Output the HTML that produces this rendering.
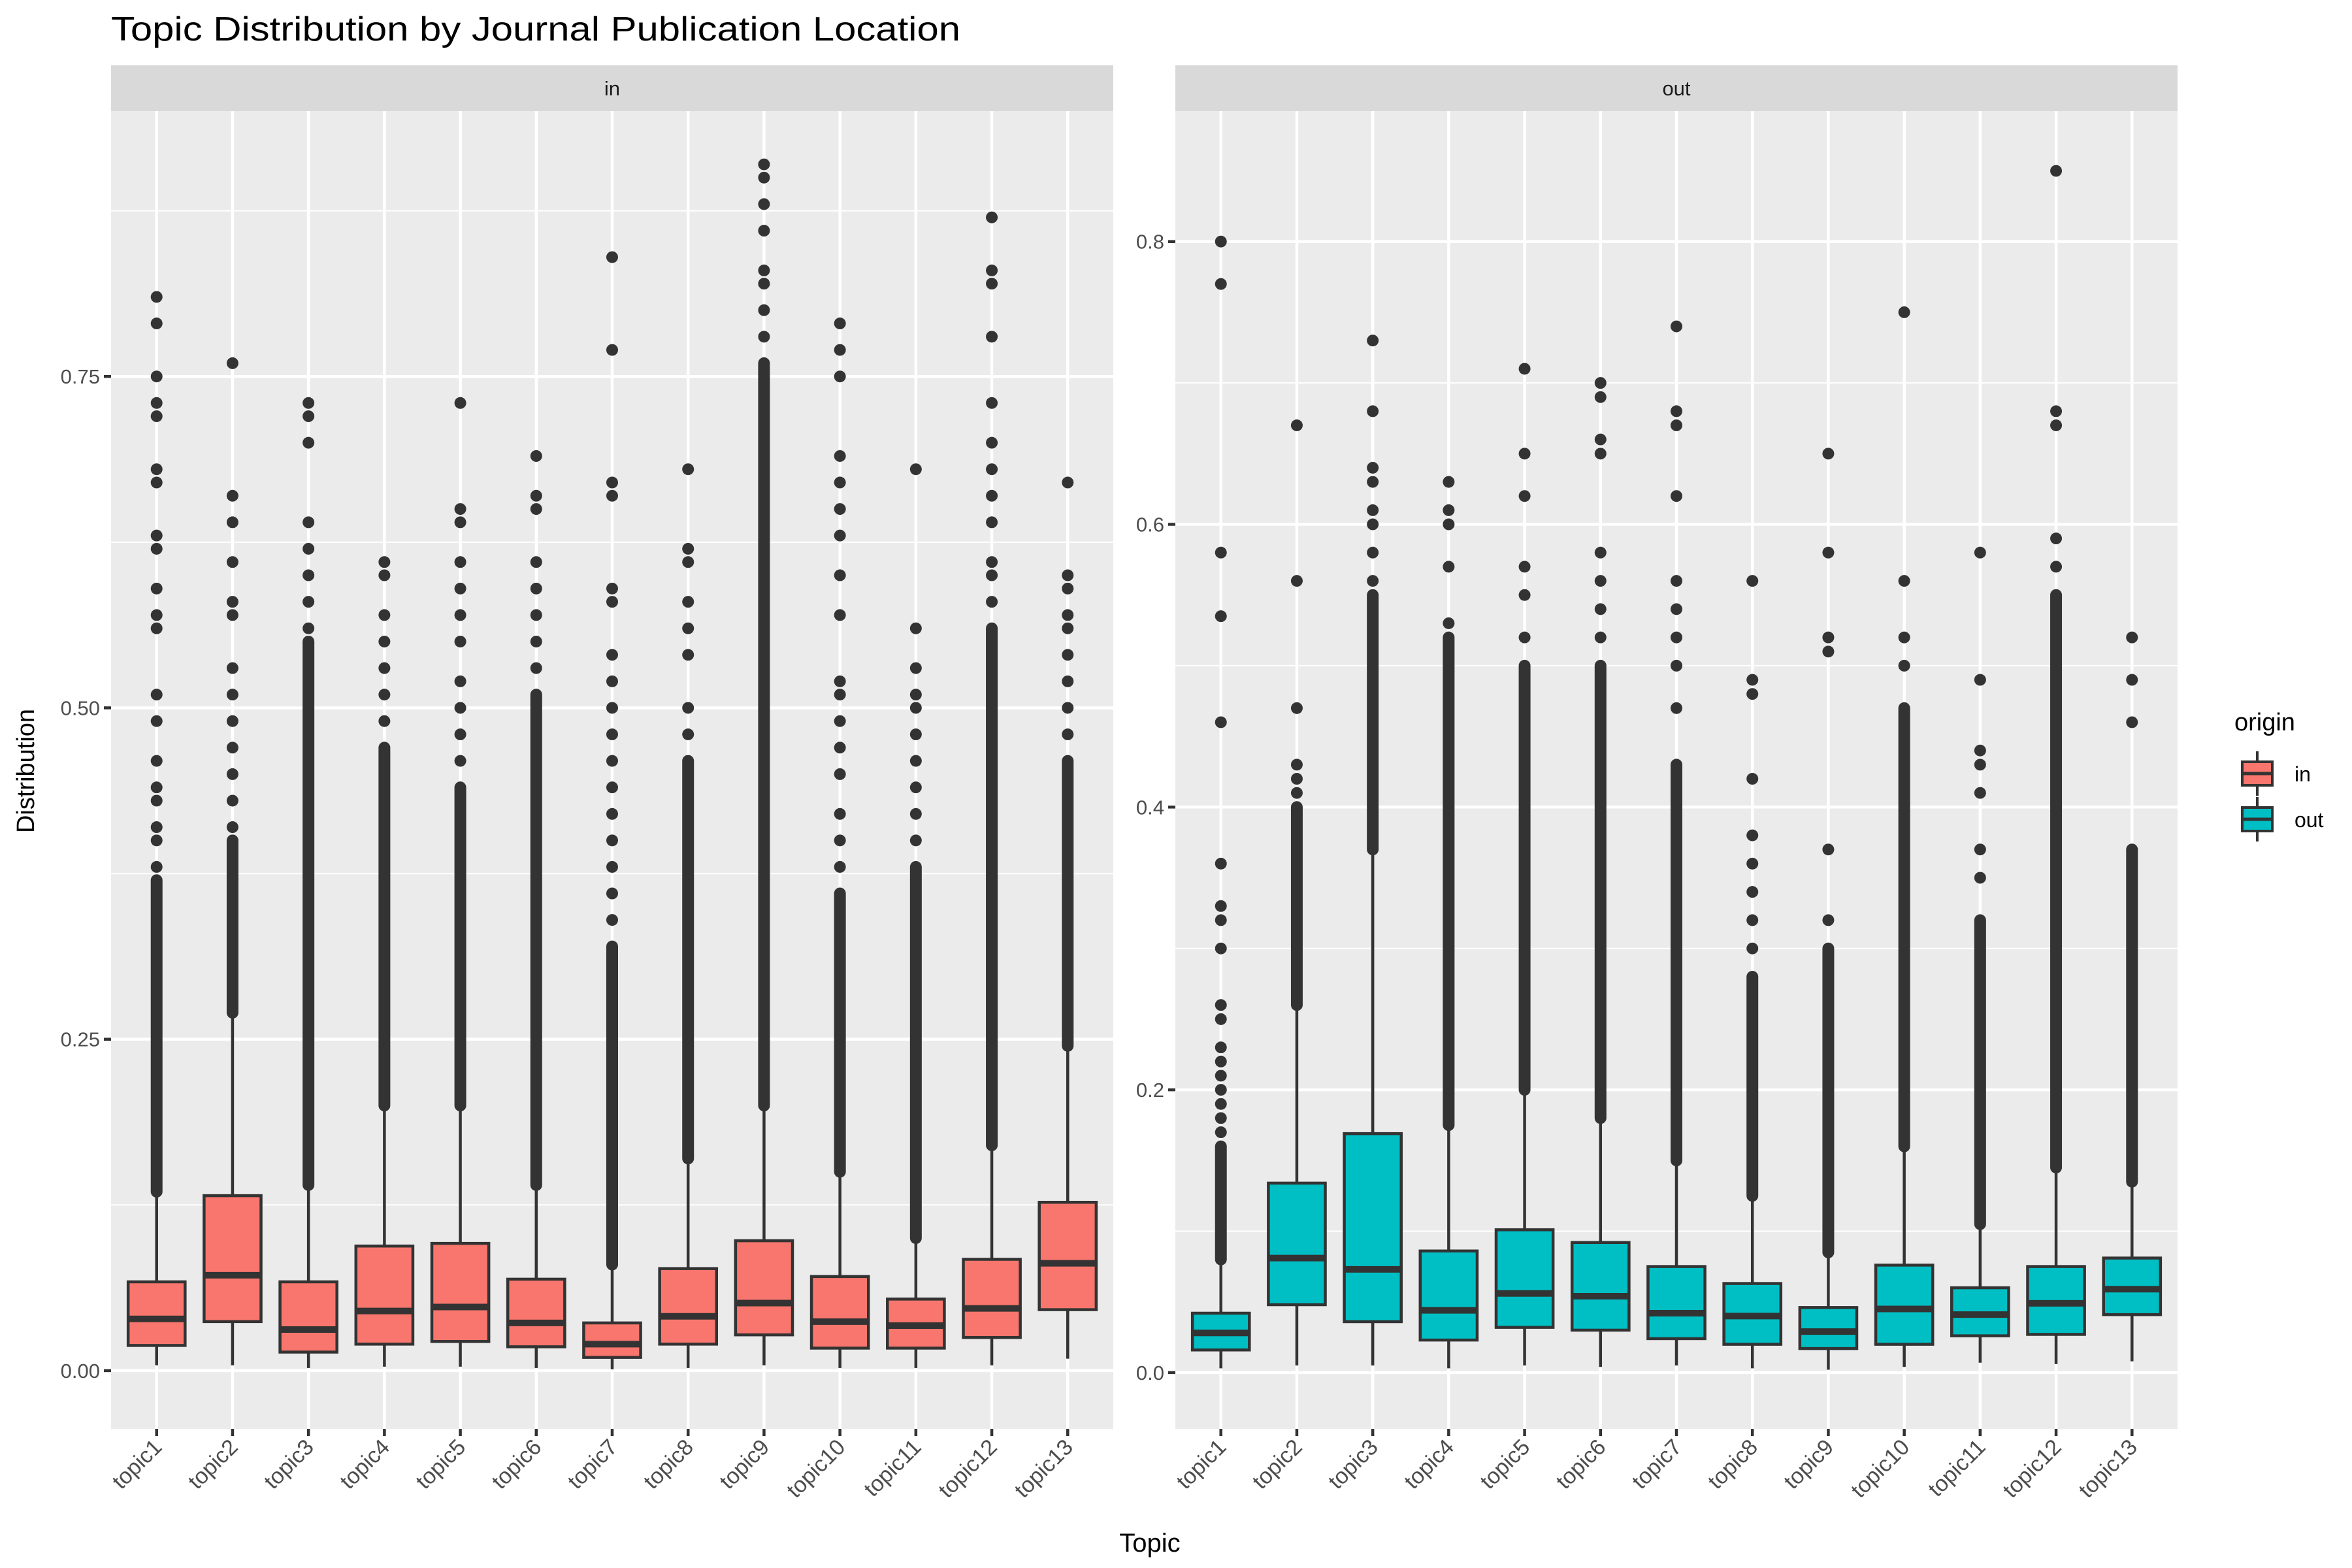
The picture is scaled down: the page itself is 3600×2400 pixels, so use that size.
<!DOCTYPE html>
<html><head><meta charset="utf-8"><style>
html,body{margin:0;padding:0;background:#fff;}
svg{display:block;font-family:"Liberation Sans",sans-serif;}
</style></head><body>
<svg id="chart" width="3600" height="2400" viewBox="0 0 3600 2400" xmlns="http://www.w3.org/2000/svg">
<text x="170" y="62" font-size="52" fill="#000" textLength="1300" lengthAdjust="spacingAndGlyphs">Topic Distribution by Journal Publication Location</text>
<text transform="translate(52,1180) rotate(-90)" text-anchor="middle" font-size="38" fill="#000">Distribution</text>
<text x="1760" y="2375" text-anchor="middle" font-size="40" fill="#000">Topic</text>
<g id="panels"></g>
<g>
<text x="3420" y="1118" font-size="38" fill="#000">origin</text>
<g>
<line x1="3455" y1="1150" x2="3455" y2="1218" stroke="#333" stroke-width="4"/>
<rect x="3432" y="1166" width="46" height="36" fill="#F8766D" stroke="#333" stroke-width="4"/>
<line x1="3432" y1="1184" x2="3478" y2="1184" stroke="#333" stroke-width="5"/>
<text x="3512" y="1196" font-size="32" fill="#000">in</text></g>
<g>
<line x1="3455" y1="1220" x2="3455" y2="1288" stroke="#333" stroke-width="4"/>
<rect x="3432" y="1236" width="46" height="36" fill="#00BFC4" stroke="#333" stroke-width="4"/>
<line x1="3432" y1="1254" x2="3478" y2="1254" stroke="#333" stroke-width="5"/>
<text x="3512" y="1266" font-size="32" fill="#000">out</text></g>
</g>
</svg>
<script>
const topics = ["topic1","topic2","topic3","topic4","topic5","topic6","topic7","topic8","topic9","topic10","topic11","topic12","topic13"];
// in panel
const inQ1 = [0.019,0.037,0.014,0.020,0.022,0.018,0.010,0.020,0.027,0.017,0.017,0.025,0.046];
const inMed = [0.039,0.072,0.031,0.045,0.048,0.036,0.020,0.041,0.051,0.037,0.034,0.047,0.081];
const inQ3 = [0.067,0.132,0.067,0.094,0.096,0.069,0.036,0.077,0.098,0.071,0.054,0.084,0.127];
const inLow = [0.004,0.004,0.002,0.003,0.003,0.002,0.001,0.002,0.004,0.002,0.002,0.004,0.009];
const inHigh = [0.135,0.27,0.14,0.20,0.20,0.14,0.08,0.16,0.20,0.15,0.10,0.17,0.245];
const inDenseTop = [0.37,0.40,0.55,0.47,0.44,0.51,0.32,0.46,0.76,0.36,0.38,0.56,0.46];
const inOutliers = [
[0.38,0.40,0.41,0.43,0.44,0.46,0.49,0.51,0.56,0.57,0.59,0.62,0.63,0.67,0.68,0.72,0.73,0.75,0.79,0.81],
[0.41,0.43,0.45,0.47,0.49,0.51,0.53,0.57,0.58,0.61,0.64,0.66,0.76],
[0.56,0.58,0.60,0.62,0.64,0.70,0.72,0.73],
[0.49,0.51,0.53,0.55,0.57,0.60,0.61],
[0.46,0.48,0.50,0.52,0.55,0.57,0.59,0.61,0.64,0.65,0.73],
[0.53,0.55,0.57,0.59,0.61,0.65,0.66,0.69],
[0.34,0.36,0.38,0.40,0.42,0.44,0.46,0.48,0.50,0.52,0.54,0.58,0.59,0.66,0.67,0.77,0.84],
[0.48,0.50,0.54,0.56,0.58,0.61,0.62,0.68],
[0.78,0.80,0.82,0.83,0.86,0.88,0.90,0.91],
[0.38,0.40,0.42,0.45,0.47,0.49,0.51,0.52,0.57,0.60,0.63,0.65,0.67,0.69,0.75,0.77,0.79],
[0.40,0.42,0.44,0.46,0.48,0.50,0.51,0.53,0.56,0.68],
[0.58,0.60,0.61,0.64,0.66,0.68,0.70,0.73,0.78,0.82,0.83,0.87],
[0.48,0.50,0.52,0.54,0.56,0.57,0.59,0.60,0.67]];
// out panel
const outQ1 = [0.016,0.048,0.036,0.023,0.032,0.030,0.024,0.020,0.017,0.020,0.026,0.027,0.041];
const outMed = [0.028,0.081,0.073,0.044,0.056,0.054,0.042,0.040,0.029,0.045,0.041,0.049,0.059];
const outQ3 = [0.042,0.134,0.169,0.086,0.101,0.092,0.075,0.063,0.046,0.076,0.060,0.075,0.081];
const outLow = [0.003,0.005,0.005,0.003,0.005,0.004,0.005,0.003,0.002,0.004,0.007,0.006,0.008];
const outHigh = [0.08,0.26,0.37,0.175,0.20,0.18,0.15,0.125,0.085,0.16,0.105,0.145,0.135];
const outDenseTop = [0.16,0.40,0.55,0.52,0.50,0.50,0.43,0.28,0.30,0.47,0.32,0.55,0.37];
const outOutliers = [
[0.17,0.18,0.19,0.20,0.21,0.22,0.23,0.25,0.26,0.30,0.32,0.33,0.36,0.46,0.535,0.58,0.77,0.80],
[0.41,0.42,0.43,0.47,0.56,0.67],
[0.56,0.58,0.60,0.61,0.63,0.64,0.68,0.73],
[0.53,0.57,0.60,0.61,0.63],
[0.52,0.55,0.57,0.62,0.65,0.71],
[0.52,0.54,0.56,0.58,0.65,0.66,0.69,0.70],
[0.47,0.50,0.52,0.54,0.56,0.62,0.67,0.68,0.74],
[0.30,0.32,0.34,0.36,0.38,0.42,0.48,0.49,0.56],
[0.32,0.37,0.51,0.52,0.58,0.65],
[0.50,0.52,0.56,0.75],
[0.35,0.37,0.41,0.43,0.44,0.49,0.58],
[0.57,0.59,0.67,0.68,0.85],
[0.46,0.49,0.52]];
const inTicks = [0, 0.25, 0.5, 0.75];
const inTickLabels = ["0.00","0.25","0.50","0.75"];
const outTicks = [0, 0.2, 0.4, 0.6, 0.8];
const outTickLabels = ["0.0","0.2","0.4","0.6","0.8"];

const NS = "http://www.w3.org/2000/svg";
function mk(tag, attrs, parent){const e=document.createElementNS(NS,tag);for(const k in attrs)e.setAttribute(k,attrs[k]);parent.appendChild(e);return e;}
const root = document.getElementById('panels');

function panel(opt){
  const {x0,x1,y0,y1,vmin,vmax,name,fill,q1,med,q3,lo,hi,dense,outs,ticks,labels} = opt;
  const g = mk('g',{},root);
  
  
  const y = v => y1 - (v - vmin)/(vmax - vmin)*(y1 - y0);
  const step = (x1-x0)/13.2;
  const x = i => x0 + step*(i+0.6);
  const strip = mk('rect',{x:x0,y:100,width:x1-x0,height:70,fill:'#D9D9D9'},g);
  
  
  const st = mk('text',{x:(x0+x1)/2,y:146,'text-anchor':'middle','font-size':31,fill:'#1a1a1a'},g);
  st.textContent = name;
  
  
  mk('rect',{x:x0,y:y0,width:x1-x0,height:y1-y0,fill:'#EBEBEB'},g);
  for(let k=0;k<ticks.length;k++){
    const d = ticks[1]-ticks[0];
    for(const mv of [ticks[k]-d/2, ticks[k]+d/2]){
      if(mv>vmin && mv<vmax && (k===0 || mv>ticks[k])) mk('line',{x1:x0,x2:x1,y1:y(mv),y2:y(mv),stroke:'#fff','stroke-width':2},g);
    }
  }
  ticks.forEach((t,k)=>{
    mk('line',{x1:x0,x2:x1,y1:y(t),y2:y(t),stroke:'#fff','stroke-width':4.5},g);
    mk('line',{x1:x0-11,x2:x0,y1:y(t),y2:y(t),stroke:'#333','stroke-width':4.5},g);
    const tl = mk('text',{x:x0-17,y:y(t)+11,'text-anchor':'end','font-size':31,fill:'#4D4D4D'},g);
    tl.textContent = labels[k];
    
    
  });
  topics.forEach((tp,i)=>{
    mk('line',{x1:x(i),x2:x(i),y1:y0,y2:y1,stroke:'#fff','stroke-width':4.5},g);
    mk('line',{x1:x(i),x2:x(i),y1:y1,y2:y1+11,stroke:'#333','stroke-width':4.5},g);
    const lab = mk('text',{transform:`translate(${x(i)+10},${y1+30}) rotate(-45)`,'text-anchor':'end','font-size':34,fill:'#4D4D4D'},g);
    lab.textContent = tp;
    
    
  });
  topics.forEach((tp,i)=>{
    const bg = mk('g',{},g);
    
    
    const cx = x(i), w = step*0.75;
    mk('line',{x1:cx,x2:cx,y1:y(lo[i]),y2:y(hi[i]),stroke:'#333','stroke-width':4.5},bg);
    mk('line',{x1:cx,x2:cx,y1:y(hi[i]),y2:y(dense[i]),stroke:'#333','stroke-width':18,'stroke-linecap':'round'},bg);
    outs[i].forEach(v=>{
      const c = mk('circle',{cx:cx,cy:y(v),r:9,fill:'#333'},bg);
      
      
    });
    mk('rect',{x:cx-w/2,y:y(q3[i]),width:w,height:y(q1[i])-y(q3[i]),fill:fill,stroke:'#333','stroke-width':4.5},bg);
    mk('line',{x1:cx-w/2,x2:cx+w/2,y1:y(med[i]),y2:y(med[i]),stroke:'#333','stroke-width':10},bg);
  });
}
panel({x0:170,x1:1704,y0:170,y1:2187,vmin:-0.0439,vmax:0.9502,name:'in',fill:'#F8766D',
  q1:inQ1,med:inMed,q3:inQ3,lo:inLow,hi:inHigh,dense:inDenseTop,outs:inOutliers,ticks:inTicks,labels:inTickLabels});
panel({x0:1799,x1:3333,y0:170,y1:2187,vmin:-0.0398,vmax:0.8923,name:'out',fill:'#00BFC4',
  q1:outQ1,med:outMed,q3:outQ3,lo:outLow,hi:outHigh,dense:outDenseTop,outs:outOutliers,ticks:outTicks,labels:outTickLabels});
</script>
</body></html>
